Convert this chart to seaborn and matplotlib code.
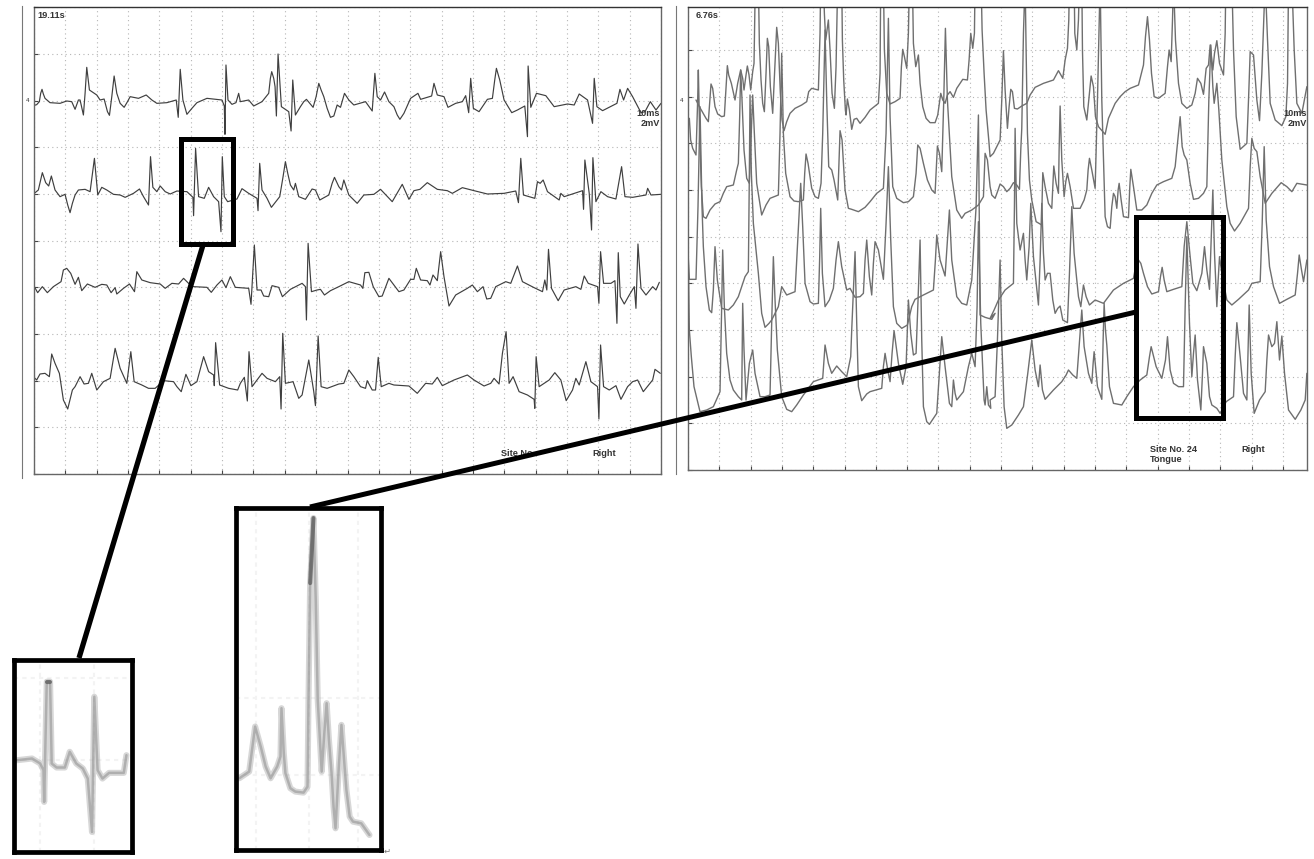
import pandas as pd
import numpy as np
import seaborn as sns
import matplotlib.pyplot as plt
from matplotlib.patches import Rectangle
from matplotlib.ticker import MultipleLocator

# traces at 3x (x, y), converted to ms / mV below
left_ch1 = [(103,316),(110,314),(118,305),(122,280),(126,268),(130,282),(135,295),(150,308),(180,310),(200,303),(215,305),(225,328),(235,300),(240,300),(250,345),(255,280),(260,202),(264,235),(268,270),(290,285),(300,300),(312,297),(322,335),(328,346),(335,290),(342,228),(350,280),(360,310),(372,322),(382,305),(390,290),(415,295),(438,285),(455,300),(470,310),(500,308),(528,300),(534,352),(540,208),(548,300),(560,343),(575,325),(590,308),(620,295),(665,300),(672,318),(674,403),(677,195),(683,300),(695,313),(707,308),(715,280),(720,305),(745,300),(760,318),(785,305),(805,280),(810,235),(814,215),(820,235),(824,260),(828,348),(833,162),(843,320),(865,335),(872,393),(877,240),(885,345),(900,320),(910,305),(918,298),(938,322),(947,290),(955,250),(962,270),(970,290),(980,325),(990,352),(1000,348),(1010,315),(1020,322),(1032,280),(1045,300),(1060,315),(1095,305),(1115,333),(1123,220),(1130,290),(1140,300),(1152,276),(1165,305),(1180,320),(1190,345),(1198,358),(1210,340),(1230,295),(1252,280),(1260,298),(1293,288),(1300,250),(1310,285),(1330,290),(1342,322),(1365,310),(1385,305),(1395,287),(1404,338),(1410,235),(1418,325),(1435,335),(1460,298),(1475,295),(1482,240),(1487,205),(1497,240),(1510,300),(1533,338),(1550,330),(1572,318),(1580,410),(1582,198),(1590,322),(1607,280),(1635,287),(1660,320),(1700,312),(1720,315),(1735,282),(1760,300),(1775,370),(1780,235),(1788,320),(1805,332),(1848,310),(1857,268),(1868,300),(1880,265),(1895,290),(1920,338),(1932,335),(1948,305),(1965,330),(1980,310)]
left_ch2 = [(103,580),(115,570),(127,518),(137,548),(146,558),(154,528),(165,570),(180,590),(195,583),(203,615),(210,638),(217,610),(225,585),(235,570),(255,568),(270,575),(283,475),(293,585),(305,562),(320,570),(340,583),(360,585),(375,592),(400,580),(418,567),(430,590),(445,615),(451,470),(458,562),(470,575),(480,558),(495,575),(510,582),(530,573),(560,575),(578,592),(580,647),(586,445),(595,590),(612,595),(625,562),(640,590),(655,605),(662,695),(666,470),(672,590),(682,605),(710,597),(725,566),(745,580),(770,595),(773,632),(778,490),(785,570),(800,595),(813,622),(838,590),(848,530),(855,485),(862,520),(870,555),(880,570),(885,550),(895,590),(915,598),(935,567),(945,570),(958,600),(985,585),(995,550),(1002,532),(1015,560),(1023,570),(1030,540),(1045,585),(1070,610),(1090,585),(1120,583),(1140,568),(1175,605),(1205,553),(1225,598),(1240,572),(1258,568),(1280,548),(1310,568),(1340,572),(1355,580),(1385,563),(1420,572),(1460,582),(1510,580),(1545,573),(1553,608),(1560,475),(1568,585),(1602,595),(1610,545),(1618,550),(1627,540),(1640,575),(1675,600),(1680,580),(1690,590),(1745,572),(1748,628),(1752,480),(1765,580),(1772,690),(1776,473),(1785,605),(1800,575),(1820,590),(1845,597),(1862,500),(1872,590),(1895,592),(1935,585),(1940,565),(1950,585),(1980,583)]
left_ch3 = [(103,860),(113,878),(127,860),(142,878),(160,860),(183,845),(190,810),(200,805),(212,820),(225,853),(235,832),(245,872),(262,852),(285,862),(305,853),(320,855),(333,878),(345,863),(350,882),(370,865),(388,852),(403,875),(410,815),(425,840),(450,848),(480,852),(495,865),(515,850),(535,852),(550,835),(565,850),(580,860),(620,862),(633,877),(650,855),(665,840),(677,863),(690,830),(705,862),(745,865),(752,913),(762,735),(770,870),(782,870),(790,888),(805,890),(815,857),(835,862),(846,890),(870,868),(905,850),(915,860),(918,960),(923,730),(933,875),(950,870),(960,868),(972,885),(990,872),(1015,860),(1045,845),(1080,855),(1087,865),(1093,818),(1105,817),(1118,860),(1135,890),(1145,888),(1165,835),(1180,855),(1195,875),(1210,870),(1230,838),(1240,838),(1247,805),(1260,840),(1280,842),(1288,855),(1297,825),(1310,842),(1320,755),(1330,830),(1345,918),(1365,885),(1400,865),(1415,855),(1430,875),(1447,860),(1458,897),(1470,895),(1485,860),(1515,845),(1530,850),(1550,798),(1565,845),(1600,863),(1625,875),(1632,840),(1638,870),(1643,748),(1652,865),(1672,902),(1690,870),(1725,860),(1740,868),(1750,828),(1762,850),(1790,860),(1794,910),(1799,755),(1808,850),(1830,850),(1842,842),(1848,970),(1852,758),(1858,890),(1870,912),(1885,885),(1900,860),(1905,925),(1911,732),(1920,865),(1935,885),(1955,860),(1965,870),(1975,847)]
left_ch4 = [(100,1130),(110,1140),(120,1122),(135,1120),(148,1130),(155,1062),(165,1090),(178,1120),(190,1200),(203,1227),(217,1170),(225,1160),(240,1130),(252,1152),(265,1150),(275,1120),(290,1170),(310,1145),(330,1135),(345,1045),(360,1105),(380,1150),(392,1055),(402,1145),(425,1155),(445,1165),(465,1165),(490,1142),(520,1145),(530,1160),(543,1175),(557,1123),(572,1157),(590,1145),(610,1070),(625,1115),(640,1125),(642,1157),(646,1028),(658,1155),(685,1165),(712,1170),(720,1150),(732,1132),(741,1203),(746,1055),(755,1160),(785,1120),(800,1135),(825,1145),(838,1130),(842,1227),(847,1000),(855,1150),(878,1145),(895,1195),(905,1185),(925,1080),(940,1175),(945,1217),(953,1008),(962,1160),(980,1165),(1015,1152),(1030,1150),(1045,1110),(1060,1130),(1080,1160),(1095,1165),(1100,1142),(1115,1170),(1125,1170),(1133,1072),(1142,1160),(1165,1150),(1180,1155),(1225,1158),(1250,1180),(1275,1150),(1295,1152),(1310,1132),(1325,1157),(1360,1140),(1400,1125),(1420,1140),(1450,1158),(1470,1150),(1480,1135),(1495,1152),(1505,1060),(1516,995),(1525,1150),(1537,1130),(1555,1175),(1580,1185),(1600,1198),(1602,1225),(1606,1070),(1615,1160),(1645,1140),(1662,1118),(1680,1140),(1696,1202),(1715,1170),(1725,1135),(1735,1155),(1755,1085),(1770,1145),(1790,1160),(1794,1257),(1799,1035),(1808,1160),(1825,1170),(1845,1157),(1860,1198),(1880,1160),(1895,1145),(1910,1140),(1927,1175),(1955,1140),(1962,1108),(1978,1120)]

# right panel, read crop by crop: a/b are the upper crops, c/d the lower ones
right_a1 = [(78,300),(88,320),(95,332),(108,355),(115,365),(119,310),(123,252),(128,265),(135,320),(143,342),(155,350),(163,348),(167,280),(172,197),(176,225),(184,250),(195,300),(203,250),(212,210),(218,235),(222,270),(228,225),(232,198),(237,225),(242,270),(248,215),(252,190),(256,-60),(265,-60),(268,130),(273,240),(278,310),(283,335),(288,220),(292,115),(296,140),(301,260),(308,340),(314,210),(320,82),(325,130),(331,280),(336,360),(342,392),(350,365),(360,340),(375,325),(395,315),(410,305),(416,275),(425,265),(445,270),(450,100),(452,-60),(460,-60),(463,40),(467,120),(475,60),(480,150),(486,280),(493,325),(498,200),(503,-60),(515,-60),(517,120),(521,240),(526,330),(528,345),(532,297),(538,330),(545,388),(552,358),(560,355),(570,370),(585,352),(600,330),(625,310),(630,220),(632,-60),(640,-60),(643,150),(650,280),(660,312),(675,305),(690,295),(694,200),(698,148),(703,170),(710,205),(715,100),(718,-60),(727,-60),(730,130),(737,200),(745,165),(750,250),(758,320),(768,355),(780,368),(795,368),(803,345),(812,280),(818,300),(825,310),(832,285),(840,275),(850,292),(860,265),(878,238),(892,240),(897,180),(902,100),(908,145),(913,100),(915,-60),(933,-60),(936,90),(942,220),(948,330),(956,420)]
right_a2 = [(0,470),(10,460),(30,420),(35,300),(40,152),(45,270),(52,385),(57,320),(62,268),(67,275),(73,325),(82,327),(95,318),(110,310),(120,285),(135,262),(160,250),(190,240),(205,212),(218,235),(225,180),(232,145),(236,60),(238,-60),(252,-60),(254,100),(260,150),(265,60),(268,-60),(275,-60),(277,150),(281,320),(290,360),(296,300),(303,228),(310,260),(316,350),(325,380),(345,403),(355,355),(375,310),(390,290),(405,275),(420,265),(445,255),(460,195),(466,110),(472,50),(478,120),(484,220),(492,290),(505,295),(525,280),(532,200),(537,150),(543,185),(547,60),(550,-60),(556,120),(565,250),(575,310),(590,325),(605,315),(615,280),(622,235),(632,250),(640,283),(648,205),(655,195),(660,135),(668,210),(673,160),(680,122),(688,190),(700,225),(705,100),(707,-60),(725,-60),(730,150),(738,350),(750,448),(770,430),(775,300),(780,155),(790,165),(800,300),(808,362),(815,220),(825,-60),(832,120),(840,310),(855,360),(875,377),(887,350),(892,250),(895,-60),(905,-60),(912,150),(920,310),(935,340),(950,260)]
right_b1 = [(58,355),(62,420),(68,445),(78,465),(83,300),(85,210),(89,400),(94,560),(100,650),(108,655),(120,630),(135,612),(150,605),(160,580),(170,560),(190,555),(200,510),(205,490),(209,350),(212,210),(216,300),(222,450),(230,535),(238,550),(243,420),(248,285),(253,400),(260,550),(275,645),(288,615),(300,595),(325,585),(330,400),(335,160),(340,400),(347,520),(360,590),(372,603),(385,605),(400,600),(404,520),(408,462),(414,490),(425,565),(435,590),(445,595),(453,550),(458,400),(465,90),(470,300),(476,500),(485,510),(492,540),(503,600),(507,480),(510,392),(516,420),(525,570),(535,625),(545,628),(565,635),(585,622),(600,605),(620,580),(640,565),(648,400),(655,55),(660,350),(668,560),(680,595),(700,608),(715,605),(730,590),(738,520),(743,435),(750,445),(760,490),(772,540),(785,570),(795,580),(799,500),(802,438),(808,460),(815,515),(821,300),(826,85),(832,300),(845,530),(860,630),(875,655),(885,640),(905,630),(925,615),(940,590),(945,460),(952,480)]
right_b2 = [(0,560),(5,585),(15,595),(24,570),(30,552),(40,560),(50,575),(60,565),(70,548),(80,555),(88,568),(92,450),(95,385),(100,100),(105,-60),(108,150),(112,400),(118,540),(125,600),(138,665),(155,675),(156,600),(158,518),(165,560),(175,610),(185,625),(188,560),(191,498),(198,550),(205,580),(207,450),(210,318),(215,480),(222,590),(227,545),(232,520),(240,560),(250,625),(270,625),(282,600),(290,570),(294,510),(298,475),(305,510),(315,565),(322,300),(330,-60),(335,300),(345,650),(352,680),(360,685),(365,620),(370,580),(375,590),(380,625),(384,570),(387,550),(393,600),(400,650),(415,653),(419,560),(422,508),(430,560),(440,630),(455,630),(470,615),(485,580),(500,555),(520,545),(545,535),(555,500),(565,400),(570,350),(576,440),(582,465),(590,480),(600,550),(610,598),(625,595),(640,580),(650,560),(656,300),(662,135),(668,260),(672,310),(680,250),(686,330),(695,480),(710,620),(720,670),(733,693),(750,670),(775,625),(780,500),(785,415),(792,445),(800,455),(810,530),(825,610),(845,580),(873,548),(890,560),(905,575),(920,550),(950,555)]
right_c1 = [(55,60),(58,118),(78,118),(84,-100),(90,-400),(96,-100),(100,20),(108,140),(118,210),(125,218),(130,150),(135,20),(142,120),(155,205),(175,210),(190,195),(205,170),(225,110),(235,95),(238,-200),(240,-435),(244,-200),(250,-50),(265,100),(275,220),(285,262),(297,250),(305,240),(325,200),(335,140),(350,165),(375,155),(378,100),(392,-170),(398,-40),(405,130),(420,185),(430,192),(445,190),(449,50),(452,-95),(457,100),(465,200),(478,180),(490,145),(498,60),(505,5),(515,80),(530,150),(540,145),(555,172),(570,170),(580,160),(585,60),(590,0),(598,110),(605,165),(610,70),(615,5),(625,30),(640,118),(648,-50),(655,-220),(662,0),(670,200),(680,250),(695,265),(712,255),(725,200),(735,178),(760,165),(790,150),(796,60),(800,-15),(810,60),(825,108),(832,0),(838,-90),(845,60),(860,170),(875,190),(890,195),(905,120),(918,-100),(925,-375),(928,0),(930,225),(945,232),(965,238),(975,220)]
right_c2 = [(0,235),(12,210),(25,180),(45,150),(70,130),(73,-100),(75,-335),(80,-50),(90,30),(100,-20),(105,60),(110,120),(117,20),(122,-110),(130,50),(145,195),(150,60),(155,-110),(160,40),(165,120),(172,100),(180,100),(188,180),(195,220),(203,205),(210,198),(218,240),(232,248),(238,100),(245,-100),(252,40),(265,170),(272,200),(277,160),(280,135),(288,170),(298,195),(315,180),(340,190),(355,170),(370,150),(400,130),(430,115),(440,60),(445,60),(452,70),(460,100),(472,140),(485,162),(505,155),(511,110),(516,82),(522,120),(530,155),(550,148),(575,140),(582,20),(590,-55),(598,30),(608,130),(620,152),(635,100),(643,20),(650,90),(658,148),(663,0),(668,-150),(673,40),(680,200),(684,120),(688,50),(695,100),(710,180),(725,195),(745,178),(775,150),(785,130),(810,125),(816,-50),(822,-280),(828,-60),(838,80),(850,140),(868,190),(890,178),(915,165),(922,100),(927,45),(934,90),(940,125),(950,60)]
right_d1 = [(55,55),(58,270),(64,350),(72,440),(90,515),(110,510),(130,500),(150,455),(155,200),(158,30),(163,200),(170,340),(180,420),(190,450),(205,470),(215,480),(217,300),(218,190),(222,330),(228,480),(238,370),(248,330),(255,400),(270,470),(285,470),(300,465),(305,250),(310,50),(315,180),(322,330),(335,470),(350,508),(365,515),(380,495),(400,465),(430,425),(458,415),(462,360),(465,315),(475,370),(485,400),(500,378),(515,395),(530,410),(542,350),(545,270),(550,150),(555,35),(560,250),(565,440),(575,482),(590,462),(600,455),(635,445),(640,380),(645,340),(653,390),(660,425),(666,340),(672,272),(685,370),(698,433),(708,380),(712,260),(715,180),(722,280),(730,345),(738,340),(745,150),(750,0),(755,300),(760,500),(770,545),(778,553),(800,520),(808,400),(815,290),(825,380),(838,490),(845,500),(850,420),(855,460),(860,480),(880,455),(895,380),(905,340),(915,380),(921,200),(925,-55),(932,250),(942,480),(945,495),(950,440),(955,495),(962,505)]
right_d2 = [(0,480),(15,470),(22,300),(30,60),(35,300),(42,500),(50,565),(65,555),(85,525),(100,500),(113,400),(125,300),(135,390),(145,440),(150,375),(157,450),(165,478),(190,450),(215,425),(228,405),(235,390),(248,405),(260,415),(267,320),(275,210),(282,320),(295,400),(305,430),(309,370),(312,335),(322,440),(335,478),(339,300),(342,190),(346,270),(350,315),(358,440),(370,490),(395,495),(410,470),(430,440),(450,420),(470,405),(478,350),(483,320),(498,380),(515,415),(526,360),(532,290),(540,390),(550,430),(565,440),(580,440),(585,200),(590,-10),(598,250),(605,410),(610,340),(615,285),(622,420),(632,510),(637,400),(640,320),(650,370),(658,470),(665,495),(680,505),(690,520),(708,485),(730,470),(735,350),(740,248),(750,350),(760,460),(770,480),(774,320),(777,195),(783,400),(792,520),(808,480),(825,455),(830,360),(835,285),(845,320),(853,310),(860,245),(865,320),(868,360),(875,288),(883,400),(895,510),(915,538),(932,510),(945,480),(950,400)]

# enlarged details
inset_left = [(50,330),(95,325),(120,340),(130,360),(132,455),(140,95),(150,95),(155,340),(170,352),(195,352),(210,305),(230,340),(250,355),(265,385),(278,545),(285,140),(295,360),(310,385),(330,368),(375,368),(383,315)]
inset_right = [(40,835),(70,815),(80,740),(88,680),(105,740),(120,800),(135,835),(155,800),(165,770),(168,625),(175,760),(180,820),(195,865),(210,875),(235,878),(247,860),(250,600),(255,250),(265,55),(272,300),(278,600),(290,815),(298,700),(305,610),(312,720),(320,820),(326,920),(332,985),(342,800),(350,675),(358,780),(365,870),(375,950),(385,965),(410,970),(435,1005)]

W, H = 1314, 859
DARK = '#3f3f3f'
GRID = '#b5b5b5'

sns.set_style('white')
plt.rcParams['font.family'] = ['Liberation Sans', 'DejaVu Sans']
fig = plt.figure(figsize=(W / 100, H / 100), dpi=100)


def shift(points, dx, dy):
    return [(x + dx, y + dy) for x, y in points]


def box_axes(x0, y0, x1, y1):
    return fig.add_axes([x0 / W, 1 - y1 / H, (x1 - x0) / W, (y1 - y0) / H])


def scope_panel(frame_x, inner_x, right_x, top_y, bottom_y, tmax, traces, color, lw):
    # thin outer frame of the scope window
    outer = box_axes(frame_x, top_y - 1, right_x, bottom_y + 4)
    outer.set_xticks([])
    outer.set_yticks([])
    for s in ['top', 'bottom', 'right']:
        outer.spines[s].set_visible(False)
    outer.spines['left'].set_color('#777777')

    ax = box_axes(inner_x, top_y, right_x, bottom_y)
    x0, y0 = inner_x * 3, bottom_y * 3
    for points in traces:
        df = pd.DataFrame(points, columns=['x', 'y'])
        df['ms'] = (df['x'] - x0) / 9.39
        df['mV'] = (y0 - df['y']) / 70
        sns.lineplot(data=df, x='ms', y='mV', estimator=None, sort=False, ax=ax,
                     color=color, linewidth=lw)
    ax.set_xlim(0, tmax)
    ax.set_ylim(0, (bottom_y - top_y) * 3 / 70)
    ax.xaxis.set_major_locator(MultipleLocator(10))
    ax.yaxis.set_major_locator(MultipleLocator(2))
    ax.set_xlabel('')
    ax.set_ylabel('')
    ax.set_xticklabels([])
    ax.set_yticklabels([])
    ax.tick_params(direction='in', length=3, width=0.8, color='#444444', bottom=True, left=True)
    ax.grid(True, linestyle=(0, (1, 3)), color=GRID, linewidth=0.8)
    for s in ax.spines.values():
        s.set_color('#666666')
        s.set_linewidth(1)
    ax.spines['top'].set_color('#333333')
    return ax


scope_panel(22, 34, 661, 7, 474, 200, [left_ch1, left_ch2, left_ch3, left_ch4], DARK, 0.85)

right_traces = [
    shift(right_a1, 2010, 0) + shift(right_a2, 2970, 0),
    shift(right_b1, 2010, 0) + shift(right_b2, 2970, 0),
    shift(right_c1, 2010, 720) + shift(right_c2, 2970, 720),
    shift(right_d1, 2010, 720) + shift(right_d2, 2970, 720),
]
scope_panel(676, 688, 1307, 7, 470, 197.7, right_traces, '#6f6f6f', 1.0)

# insets, blurred by stacking wide translucent strokes
for points, rect, xlim, ylim, dark, gx, gy in [
    (inset_left, (14, 660, 132, 852), (40, 400), (605, 30), (5, 7), [120, 285], [85, 330]),
    (inset_right, (236, 508, 381, 850), (30, 470), (1050, 25), (17, 19), [90, 250, 400], [595, 825]),
]:
    ax = box_axes(*rect)
    df = pd.DataFrame(points, columns=['x', 'y'])
    sns.lineplot(data=df, x='x', y='y', estimator=None, sort=False, ax=ax,
                 color='#a8a8a8', linewidth=4.4, alpha=0.45)
    sns.lineplot(data=df, x='x', y='y', estimator=None, sort=False, ax=ax,
                 color='#8f8f8f', linewidth=1.8, alpha=0.55)
    sns.lineplot(data=df.iloc[dark[0]:dark[1]], x='x', y='y', estimator=None, sort=False, ax=ax,
                 color='#555555', linewidth=3, alpha=0.7)
    ax.set_xlim(*xlim)
    ax.set_ylim(*ylim)
    ax.set_xticks(gx)
    ax.set_yticks(gy)
    ax.set_xticklabels([])
    ax.set_yticklabels([])
    ax.tick_params(length=0)
    ax.grid(True, linestyle=(0, (2, 2)), color='#f3f3f3', linewidth=1.5)
    ax.set_axisbelow(True)
    ax.set_xlabel('')
    ax.set_ylabel('')
    for s in ax.spines.values():
        s.set_color('black')
        s.set_linewidth(3.4)

# callouts and texts in picture pixels
over = fig.add_axes([0, 0, 1, 1], facecolor='none')
over.set_xlim(0, W)
over.set_ylim(H, 0)
over.axis('off')
for x, y, w, h in [(181, 139, 52, 105), (1136, 217, 87, 201)]:
    over.add_patch(Rectangle((x, y), w, h, fill=False, edgecolor='black', linewidth=3.6))
over.plot([203, 79], [245, 658], color='black', linewidth=3.8, solid_capstyle='butt')
over.plot([1136, 310], [312, 507], color='black', linewidth=3.6, solid_capstyle='butt')

labels = [
    (37, 15, '19.11s', 'left'), (660, 114, '10ms', 'right'), (660, 123, '2mV', 'right'),
    (501, 453, 'Site No.', 'left'), (592, 454, 'Right', 'left'),
    (696, 16, '6.76s', 'left'), (1307, 114, '10ms', 'right'), (1307, 123, '2mV', 'right'),
    (1150, 450, 'Site No. 24', 'left'), (1150, 459, 'Tongue', 'left'), (1241, 450, 'Right', 'left'),
]
for x, y, s, ha in labels:
    over.text(x, y, s, fontsize=6.6, color='#333333', fontweight='bold', ha=ha, va='center', zorder=1)
for x in [28, 682]:
    over.text(x, 100, '4', fontsize=4.5, color='#333333', ha='center', va='center')
over.text(387, 851, '↵', fontsize=6, color='#777777', ha='center', va='center',
          family=['DejaVu Sans'])

fig.savefig('out.png', dpi=100, facecolor='white')
